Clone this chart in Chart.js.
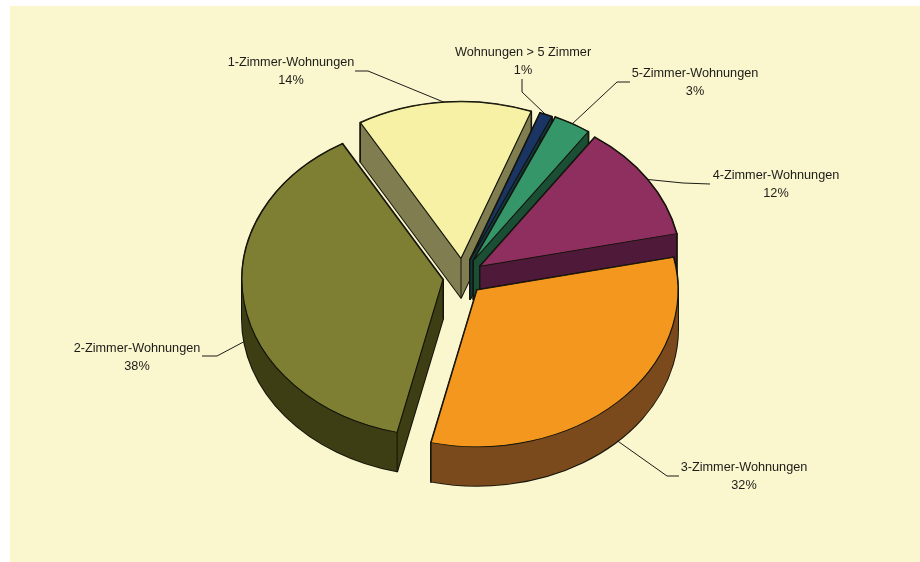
<!DOCTYPE html>
<html lang="de">
<head>
<meta charset="utf-8">
<title>Wohnungen nach Zimmerzahl</title>
<script src="https://cdn.jsdelivr.net/npm/chart.js@4"></script>
<style>
  html, body { margin: 0; padding: 0; background: #fff; }
  #frame { position: absolute; left: 0; top: 0; width: 920px; height: 562px; }
</style>
</head>
<body>
<div id="frame"><canvas id="pie" width="920" height="562"></canvas></div>
<script>
// Clockwise from the top-left cut of the pie
const categories = [
  "1-Zimmer-Wohnungen",
  "Wohnungen > 5 Zimmer",
  "5-Zimmer-Wohnungen",
  "4-Zimmer-Wohnungen",
  "3-Zimmer-Wohnungen",
  "2-Zimmer-Wohnungen",
];
const shares = [14, 1, 3, 12, 32, 38];

const topColors = ["#f6f1a4", "#1a3564", "#35966a", "#8f2f60", "#f4971f", "#7f7f33"];
const sideColors = ["#807e50", "#0f3a44", "#1a4f36", "#4f1a39", "#7b4a1c", "#3e3e14"];

// How far each slice is moved out of the pie centre, in screen pixels
const pullOut = [
  { x: -4, y: -11.5 },
  { x: 5, y: -10 },
  { x: 8.5, y: -9.5 },
  { x: 15, y: -3.8 },
  { x: 12, y: 20 },
  { x: -22, y: 9.7 },
];
// Painted back to front so nearer slices cover the walls behind them
const paintOrder = [0, 1, 2, 3, 5, 4];

// Text block centre and baseline of the first line, plus the elbow of the leader
const labelSpots = [
  { x: 291, y: 66, elbow: [[355, 71], [368, 71]] },
  { x: 523, y: 56, elbow: [[522, 79], [522, 92]] },
  { x: 695, y: 77, elbow: [[630, 82], [617, 82]] },
  { x: 776, y: 179, elbow: [[710, 184], [683, 183]] },
  { x: 744, y: 471, elbow: [[679, 476], [667, 476]] },
  { x: 137, y: 352, elbow: [[202, 356], [217, 356]] },
];

const SQUASH = 0.78;
const DEPTH = 39;
const EDGE = "#14140a";

// Screen position of a point on the rim of a slice (or its apex when r is 0)
function rimPoint(arc, i, angle, r) {
  return {
    x: arc.x + pullOut[i].x + Math.cos(angle) * r,
    y: arc.y + pullOut[i].y + Math.sin(angle) * r * SQUASH,
  };
}

// Curved outer wall plus the two flat cut faces of a slice
function wallPaths(arc, i) {
  const r = arc.outerRadius;
  const cx = arc.x + pullOut[i].x;
  const cy = arc.y + pullOut[i].y;
  const apex = rimPoint(arc, i, 0, 0);
  const paths = [];

  // The rim is split at the left and right extremes, otherwise the windings
  // of the upper and lower halves cancel out next to the extreme
  const stops = [arc.startAngle];
  for (let k = Math.ceil(arc.startAngle / Math.PI); k * Math.PI < arc.endAngle; k += 1) {
    stops.push(k * Math.PI);
  }
  stops.push(arc.endAngle);
  for (let s = 0; s < stops.length - 1; s += 1) {
    const rim = new Path2D();
    rim.ellipse(cx, cy, r, r * SQUASH, 0, stops[s], stops[s + 1]);
    rim.ellipse(cx, cy + DEPTH, r, r * SQUASH, 0, stops[s + 1], stops[s], true);
    rim.closePath();
    paths.push(rim);
  }

  [arc.startAngle, arc.endAngle].forEach((angle) => {
    const p = rimPoint(arc, i, angle, r);
    const face = new Path2D();
    face.moveTo(apex.x, apex.y);
    face.lineTo(p.x, p.y);
    face.lineTo(p.x, p.y + DEPTH);
    face.lineTo(apex.x, apex.y + DEPTH);
    face.closePath();
    paths.push(face);
  });
  return paths;
}

const extrudedPie = {
  id: "extrudedPie",
  beforeDraw(chart) {
    const ctx = chart.ctx;
    ctx.save();
    ctx.fillStyle = "#faf6ce";
    ctx.fillRect(10, 6, 910, 556);
    ctx.restore();
  },
  beforeDatasetsDraw(chart) {
    const ctx = chart.ctx;
    const arcs = chart.getDatasetMeta(0).data;

    paintOrder.forEach((i) => {
      const arc = arcs[i];
      const walls = wallPaths(arc, i);

      // Outline goes down first so the fills leave only its outer half
      ctx.save();
      ctx.strokeStyle = EDGE;
      ctx.lineWidth = 2;
      ctx.lineJoin = "round";
      walls.forEach((p) => ctx.stroke(p));
      ctx.fillStyle = sideColors[i];
      walls.forEach((p) => ctx.fill(p));

      // Vertical edges at the apex and both cut ends
      ctx.lineWidth = 1;
      [
        rimPoint(arc, i, 0, 0),
        rimPoint(arc, i, arc.startAngle, arc.outerRadius),
        rimPoint(arc, i, arc.endAngle, arc.outerRadius),
      ].forEach((p) => {
        ctx.beginPath();
        ctx.moveTo(p.x, p.y);
        ctx.lineTo(p.x, p.y + DEPTH);
        ctx.stroke();
      });
      ctx.restore();

      // Top face: the library's arc, shifted and squashed onto the tilted plane
      ctx.save();
      ctx.translate(arc.x + pullOut[i].x, arc.y + pullOut[i].y);
      ctx.scale(1, SQUASH);
      ctx.translate(-arc.x, -arc.y);
      arc.draw(ctx);
      ctx.restore();
    });
    return false;
  },
  afterDraw(chart) {
    const ctx = chart.ctx;
    const arcs = chart.getDatasetMeta(0).data;
    ctx.save();
    ctx.font = "12.7px 'Liberation Sans', Arial, sans-serif";
    ctx.textAlign = "center";
    ctx.fillStyle = "#1c1c18";
    ctx.strokeStyle = "#1c1c18";
    ctx.lineWidth = 1;

    categories.forEach((name, i) => {
      const spot = labelSpots[i];
      ctx.fillText(name, spot.x, spot.y);
      ctx.fillText(shares[i] + "%", spot.x, spot.y + 18);

      // Leader runs from the label to the middle of the slice's rim
      const arc = arcs[i];
      const mid = (arc.startAngle + arc.endAngle) / 2;
      const end = rimPoint(arc, i, mid, arc.outerRadius);
      if (Math.sin(mid) > 0) end.y += DEPTH;
      ctx.beginPath();
      ctx.moveTo(spot.elbow[0][0], spot.elbow[0][1]);
      ctx.lineTo(spot.elbow[1][0], spot.elbow[1][1]);
      ctx.lineTo(end.x, end.y);
      ctx.stroke();
    });
    ctx.restore();
  },
};

new Chart(document.getElementById("pie"), {
  type: "pie",
  data: {
    labels: categories,
    datasets: [
      {
        data: shares,
        backgroundColor: topColors,
        borderColor: EDGE,
        borderWidth: 1.2,
      },
    ],
  },
  options: {
    responsive: false,
    animation: false,
    rotation: -30,
    radius: 201,
    layout: { padding: { left: 10, bottom: 22 } },
    plugins: {
      legend: { display: false },
      tooltip: { enabled: false },
    },
  },
  plugins: [extrudedPie],
});
</script>
</body>
</html>
